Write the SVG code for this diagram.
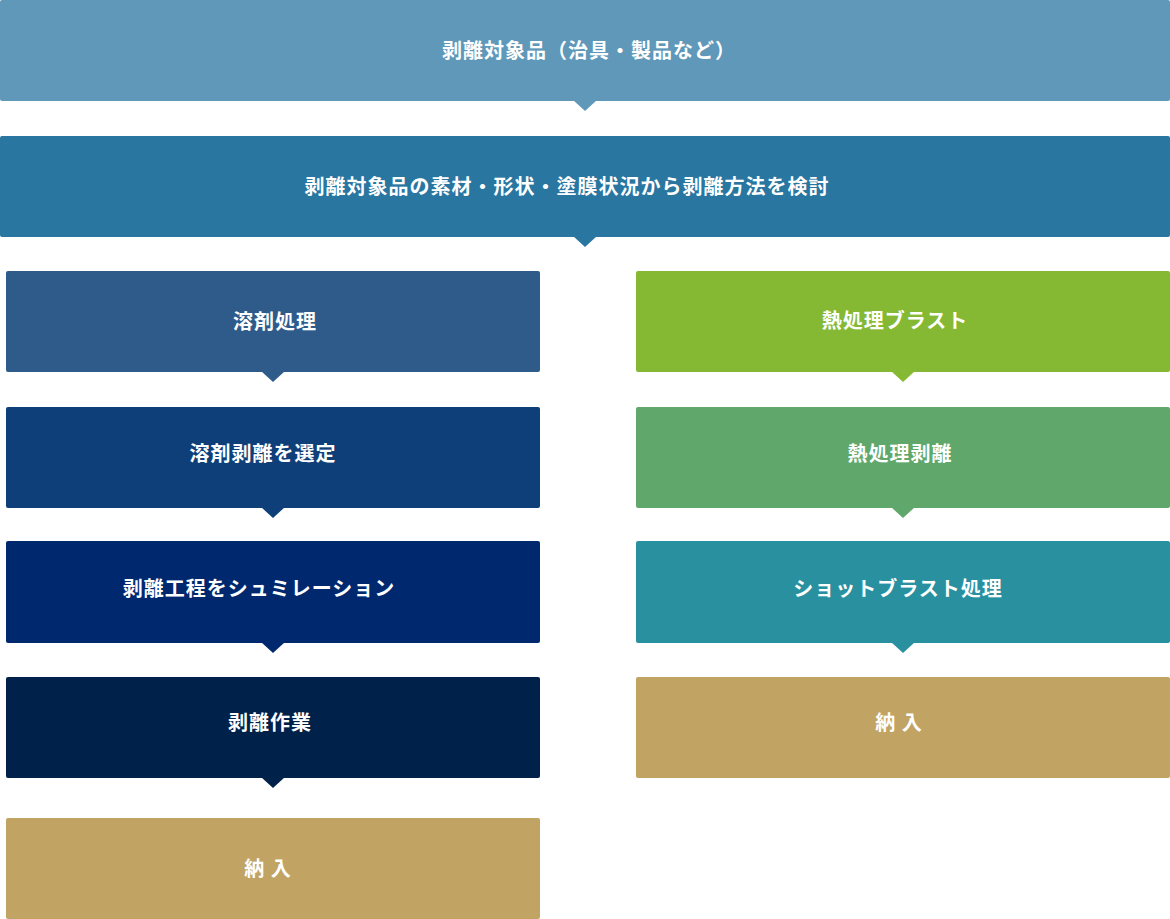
<svg xmlns="http://www.w3.org/2000/svg" width="1170" height="919" viewBox="0 0 1170 919">
<style>
.t{font-family:"Noto Sans CJK JP","Noto Sans CJK SC",sans-serif;font-weight:700;font-size:20px;fill:#fff;text-anchor:middle;dominant-baseline:central;letter-spacing:1px}
</style>
<rect width="1170" height="919" fill="#fff"/>
<g id="connectors">
<path d="M573,100 L597,100 L585,111 Z" fill="#5f98b9"/>
<path d="M573,236 L597,236 L585,247 Z" fill="#2976a0"/>
<path d="M261,371 L285,371 L273,382 Z" fill="#2e5b8a"/>
<path d="M261,507 L285,507 L273,518 Z" fill="#0f3f79"/>
<path d="M261,642 L285,642 L273,653 Z" fill="#00286e"/>
<path d="M261,777 L285,777 L273,788 Z" fill="#00224a"/>
<path d="M891,371 L915,371 L903,382 Z" fill="#86b933"/>
<path d="M891,507 L915,507 L903,518 Z" fill="#60a76b"/>
<path d="M891,642 L915,642 L903,653 Z" fill="#2990a0"/>
</g>
<g id="n1"><rect x="0" y="0" width="1170" height="101" rx="2" fill="#5f98b9"/><text class="t" x="589" y="49">剥離対象品（治具・製品など）</text></g>
<g id="n2"><rect x="0" y="136" width="1170" height="101" rx="2" fill="#2976a0"/><text class="t" x="567" y="185">剥離対象品の素材・形状・塗膜状況から剥離方法を検討</text></g>
<g id="l1"><rect x="6" y="271" width="534" height="101" rx="2" fill="#2e5b8a"/><text class="t" x="275" y="320">溶剤処理</text></g>
<g id="l2"><rect x="6" y="407" width="534" height="101" rx="2" fill="#0f3f79"/><text class="t" x="263" y="452">溶剤剥離を選定</text></g>
<g id="l3"><rect x="6" y="541" width="534" height="102" rx="2" fill="#00286e"/><text class="t" x="259" y="587">剥離工程をシュミレーション</text></g>
<g id="l4"><rect x="6" y="677" width="534" height="101" rx="2" fill="#00224a"/><text class="t" x="270" y="721">剥離作業</text></g>
<g id="l5"><rect x="6" y="818" width="534" height="101" rx="2" fill="#c1a464"/><text class="t" x="268" y="867">納 入</text></g>
<g id="r1"><rect x="636" y="271" width="534" height="101" rx="2" fill="#86b933"/><text class="t" x="895" y="319">熱処理ブラスト</text></g>
<g id="r2"><rect x="636" y="407" width="534" height="101" rx="2" fill="#60a76b"/><text class="t" x="900" y="452">熱処理剥離</text></g>
<g id="r3"><rect x="636" y="541" width="534" height="102" rx="2" fill="#2990a0"/><text class="t" x="898" y="587">ショットブラスト処理</text></g>
<g id="r4"><rect x="636" y="677" width="534" height="101" rx="2" fill="#c1a464"/><text class="t" x="899" y="721">納 入</text></g>
</svg>
